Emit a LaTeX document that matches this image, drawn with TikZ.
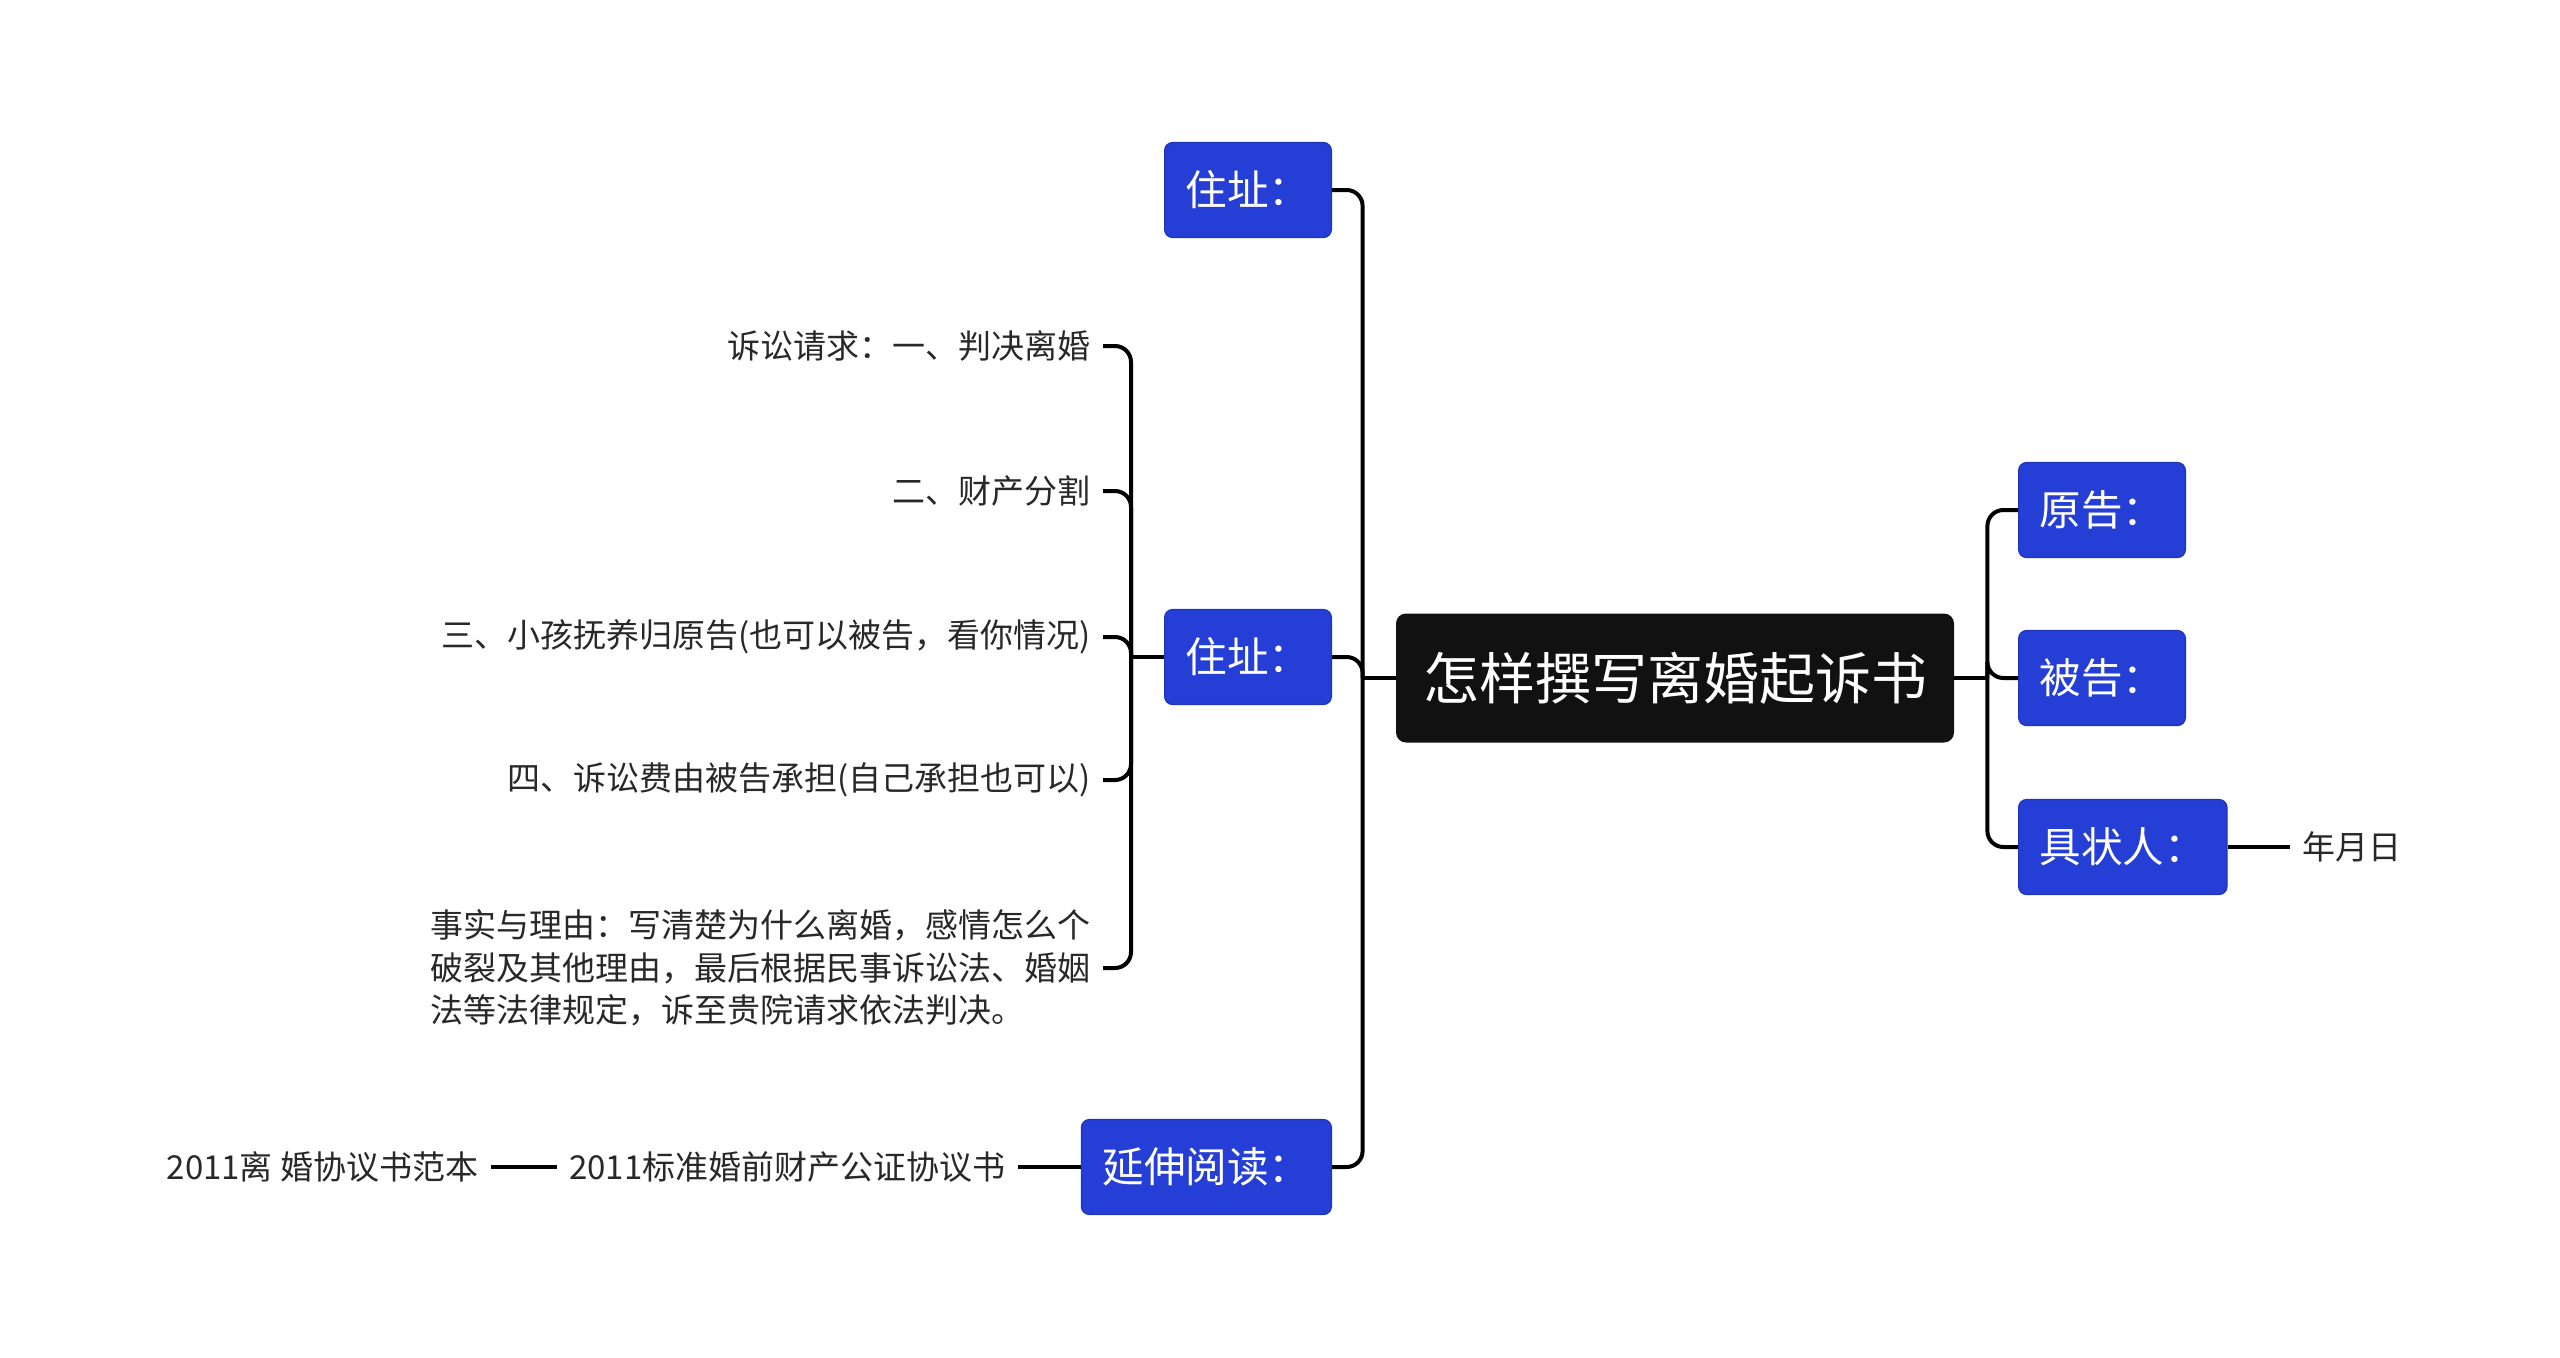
\documentclass[tikz,border=0pt]{standalone}
\usepackage{fontspec}
\setmainfont{Noto Sans CJK SC}
\usetikzlibrary{positioning}
\definecolor{topicblue}{RGB}{36,62,214}
\definecolor{rootblack}{RGB}{17,17,17}
\definecolor{leafgrey}{RGB}{40,40,40}
\tikzset{
  root/.style={fill=rootblack, text=white, rounded corners=5pt,
    font=\fontsize{28}{32}\selectfont, minimum height=64.5pt, inner xsep=13.5pt},
  topic/.style={fill=topicblue, draw=topicblue!85!black, line width=0.6pt,
    text=white, rounded corners=4pt, font=\fontsize{20.8}{24}\selectfont,
    minimum height=47.5pt, inner xsep=10.5pt},
  leaf/.style={text=leafgrey, font=\fontsize{16.5}{21.2}\selectfont, inner xsep=6pt},
  link/.style={line width=2pt, rounded corners=8pt},
}
\begin{document}
\begin{tikzpicture}[x=0.5pt, y=-0.5pt]
  \useasboundingbox (0,0) rectangle (2560,1357);
  \node[root] (root) at (1675,678) {怎样撰写离婚起诉书};
  \node[topic, anchor=east] (addr1) at (1332,190) {住址：};
  \node[topic, anchor=east] (addr2) at (1332,657) {住址：};
  \node[topic, anchor=east] (more) at (1332,1167) {延伸阅读：};
  \node[topic, anchor=west] (plaintiff) at (2018,510) {原告：};
  \node[topic, anchor=west] (defendant) at (2018,678) {被告：};
  \node[topic, anchor=west] (signer) at (2018,847) {具状人：};
  \node[leaf, right=31pt of signer] (date) {年月日};
  \node[leaf, anchor=east] (req1) at (1103,346) {诉讼请求：一、判决离婚};
  \node[leaf, anchor=east] (req2) at (1103,491) {二、财产分割};
  \node[leaf, anchor=east] (req3) at (1103,637) {三、小孩抚养归原告(也可以被告，看你情况)};
  \node[leaf, anchor=east] (req4) at (1103,780) {四、诉讼费由被告承担(自己承担也可以)};
  \node[leaf, anchor=east, align=left] (facts) at (1103,968)
    {事实与理由：写清楚为什么离婚，感情怎么个\\破裂及其他理由，最后根据民事诉讼法、婚姻\\法等法律规定，诉至贵院请求依法判决。};
  \node[leaf, left=31.5pt of more] (read1) {2011标准婚前财产公证协议书};
  \node[leaf, left=33pt of read1] (read2) {2011离 婚协议书范本};
  \coordinate[left=16.5pt of root.west] (jl);
  \coordinate[right=16.5pt of root.east] (jr);
  \coordinate[left=16.5pt of addr2.west] (jm);
  \draw[link] (root.west) -- (jl);
  \draw[link] (root.east) -- (jr);
  \draw[link] (addr2.west) -- (jm);
  \foreach \n in {addr1,addr2,more}
    \draw[link] (jl) |- (\n.east);
  \foreach \n in {plaintiff,defendant,signer}
    \draw[link] (jr) |- (\n.west);
  \foreach \n in {req1,req2,req3,req4,facts}
    \draw[link] (jm) |- (\n.east);
  \draw[link] (signer.east) -- (date.west);
  \draw[link] (more.west) -- (read1.east);
  \draw[link] (read1.west) -- (read2.east);
\end{tikzpicture}
\end{document}
